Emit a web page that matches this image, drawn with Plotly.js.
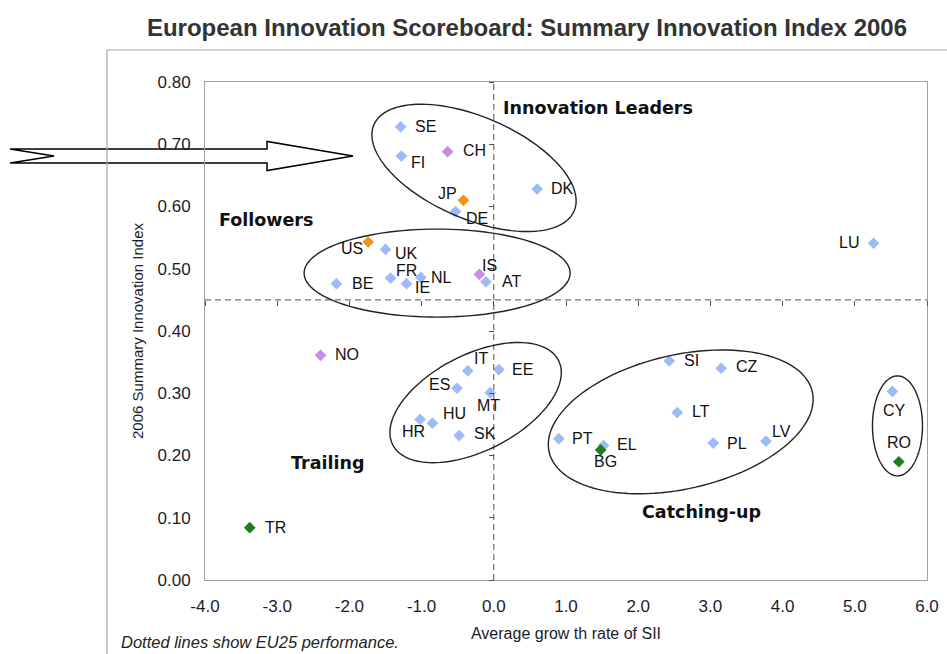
<!DOCTYPE html>
<html>
<head>
<meta charset="utf-8">
<script src="https://cdn.plot.ly/plotly-3.0.1.min.js"></script>
<style>
  html, body { margin: 0; padding: 0; background: #ffffff; }
  #chart { width: 947px; height: 654px; }
</style>
</head>
<body>
<div id="chart"></div>
<script>
// ---------------- DATA ----------------
const countries = ['SE','FI','CH','JP','DE','DK','US','UK','BE','FR','IE','NL','IS','AT','LU','NO','TR',
                   'IT','ES','MT','HR','HU','SK','EE','SI','CZ','LT','PT','EL','BG','PL','LV','CY','RO'];
// Average growth rate of SII (x)
const growthRate = [-1.29,-1.28,-0.64,-0.42,-0.53,0.60,-1.74,-1.50,-2.18,-1.43,-1.21,-1.01,-0.20,-0.11,5.26,-2.40,-3.38,
                    -0.36,-0.51,-0.05,-1.02,-0.85,-0.48,0.07,2.43,3.15,2.54,0.90,1.52,1.48,3.04,3.77,5.52,5.61];
// 2006 Summary Innovation Index (y)
const siiIndex = [0.728,0.681,0.688,0.610,0.592,0.628,0.543,0.531,0.476,0.485,0.476,0.486,0.491,0.479,0.541,0.361,0.084,
                  0.336,0.308,0.301,0.258,0.252,0.232,0.338,0.352,0.340,0.269,0.227,0.216,0.209,0.220,0.223,0.303,0.190];
// marker colour class of each country
const countryClass = ['blue','blue','purple','orange','blue','blue','orange','blue','blue','blue','blue','blue','purple','blue','blue','purple','green',
                      'blue','blue','blue','blue','blue','blue','blue','blue','blue','blue','blue','blue','green','blue','blue','blue','green'];
// EU25 reference performance (dotted lines)
const eu25Growth = 0.0;
const eu25Sii = 0.45;
// quadrant names
const quadrantNames = ['Innovation Leaders','Followers','Trailing','Catching-up'];
const quadrantX = [1.45, -3.15, -2.30, 2.87];
const quadrantY = [0.758, 0.578, 0.188, 0.109];
// tick values
const xTicks = [-4,-3,-2,-1,0,1,2,3,4,5,6];
const xTickText = ['-4.0','-3.0','-2.0','-1.0','0.0','1.0','2.0','3.0','4.0','5.0','6.0'];
const yTicks = [0,0.1,0.2,0.3,0.4,0.5,0.6,0.7,0.8];
const yTickText = ['0.00','0.10','0.20','0.30','0.40','0.50','0.60','0.70','0.80'];

// ---------------- STYLE / LAYOUT CONFIG ----------------
const W = 947, H = 654;
const M = {l: 205, r: 20, t: 82, b: 74};
const xRange = [-4, 6], yRange = [0, 0.8];
const plotW = W - M.l - M.r, plotH = H - M.t - M.b;
const pxPerX = plotW / (xRange[1] - xRange[0]);
const pxPerY = plotH / (yRange[1] - yRange[0]);

const classColors = {blue: '#9EBBF7', purple: '#C98AEE', orange: '#F0921C', green: '#1E7D1E'};
// label offsets in screen pixels [dx, dy(down)]
const labelOffset = {
  SE:[25,0], FI:[17,6], CH:[27,-1], JP:[-16,-7], DE:[21,7], DK:[25,-1], US:[-16,7], UK:[21,4],
  BE:[26,0], FR:[16,-8], IE:[16,4], NL:[21,0], IS:[10,-9], AT:[26,0], LU:[-25,-1], NO:[26,-1],
  TR:[26,0], IT:[13,-12], ES:[-17,-4], MT:[-2,13], HR:[-7,12], HU:[22,-10], SK:[26,-2], EE:[24,0],
  SI:[22,0], CZ:[26,-2], LT:[24,-1], PT:[24,0], EL:[23,-1], BG:[5,12], PL:[24,0], LV:[16,-10],
  CY:[2,19], RO:[0,-19]
};
// group outlines: centre (data), semi-axes (px), rotation (deg, clockwise on screen)
const groupOutlines = [
  {cx: -0.274, cy: 0.662, a: 109, b: 51, ang: 23.3},
  {cx: -0.785, cy: 0.493, a: 133, b: 44, ang: 0},
  {cx: -0.252, cy: 0.285, a: 93, b: 48, ang: -27},
  {cx: 2.589, cy: 0.254, a: 135, b: 67, ang: -12.9},
  {cx: 5.591, cy: 0.2476, a: 25, b: 50, ang: 0}
];

function ellipsePath(e) {
  const t = e.ang * Math.PI / 180, n = 120;
  let d = '';
  for (let i = 0; i <= n; i++) {
    const u = 2 * Math.PI * i / n;
    const dx = e.a * Math.cos(u) * Math.cos(t) - e.b * Math.sin(u) * Math.sin(t);
    const dy = e.a * Math.cos(u) * Math.sin(t) + e.b * Math.sin(u) * Math.cos(t);
    const X = e.cx + dx / pxPerX, Y = e.cy - dy / pxPerY;
    d += (i === 0 ? 'M' : 'L') + X.toFixed(4) + ',' + Y.toFixed(5);
  }
  return d + 'Z';
}

// ---------------- TRACES ----------------
const traces = [];
['blue','purple','orange','green'].forEach(cls => {
  const idx = countries.map((c, i) => i).filter(i => countryClass[i] === cls);
  traces.push({
    type: 'scatter', mode: 'markers',
    x: idx.map(i => growthRate[i]), y: idx.map(i => siiIndex[i]),
    text: idx.map(i => countries[i]),
    marker: {symbol: 'diamond', size: 9, color: classColors[cls], line: {width: 0}},
    hoverinfo: 'text', showlegend: false
  });
});
// helper traces so that the EU25 tick axes get drawn
traces.push({type: 'scatter', x: [], y: [], xaxis: 'x2', yaxis: 'y', showlegend: false, hoverinfo: 'skip'});
traces.push({type: 'scatter', x: [], y: [], xaxis: 'x', yaxis: 'y2', showlegend: false, hoverinfo: 'skip'});

// ---------------- ANNOTATIONS ----------------
const labelFont = {family: 'Liberation Sans, Arial, sans-serif', size: 16, color: '#111111'};
const annotations = countries.map((c, i) => ({
  x: growthRate[i], y: siiIndex[i], xref: 'x', yref: 'y', text: c, showarrow: false,
  xshift: labelOffset[c][0], yshift: -labelOffset[c][1], xanchor: 'center', yanchor: 'middle',
  font: labelFont
}));
quadrantNames.forEach((q, i) => annotations.push({
  x: quadrantX[i], y: quadrantY[i], xref: 'x', yref: 'y', text: q, showarrow: false,
  xanchor: 'center', yanchor: 'middle',
  font: {family: 'DejaVu Sans, Verdana, sans-serif', size: 17.5, color: '#111111', weight: 'bold'}
}));
annotations.push({
  x: (119 - M.l) / plotW, y: (H - M.b - 642) / plotH, xref: 'paper', yref: 'paper',
  text: '<i>Dotted lines show EU25 performance.</i>', showarrow: false, xanchor: 'left', yanchor: 'middle',
  font: {family: 'Liberation Sans, Arial, sans-serif', size: 16.5, color: '#222222'}
});

// ---------------- SHAPES ----------------
const shapes = [];
// block arrow (notched tail), centred vertically on pixel row 156
shapes.push({
  type: 'path', xref: 'paper', yref: 'paper', xsizemode: 'pixel', ysizemode: 'pixel',
  xanchor: 0, yanchor: (H - M.b - 156) / plotH,
  path: 'M -195,7 L 62,7 L 62,14.5 L 148,0 L 62,-14.5 L 62,-7 L -195,-7 L -151,0 Z',
  fillcolor: '#ffffff', line: {color: '#000000', width: 1.5}, layer: 'below'
});
// chart-area border
shapes.push({
  type: 'rect', xref: 'paper', yref: 'paper',
  x0: (107 - M.l) / plotW, x1: 1.2, y0: -0.3, y1: (H - M.b - 50) / plotH,
  line: {color: '#A6A6A6', width: 1.2}, fillcolor: 'rgba(0,0,0,0)', layer: 'below'
});
// EU25 dotted lines
shapes.push({type: 'line', xref: 'x', yref: 'paper', x0: eu25Growth, x1: eu25Growth, y0: 0, y1: 1,
  line: {color: '#505050', width: 1, dash: '6px,4px'}, layer: 'above'});
shapes.push({type: 'line', xref: 'paper', yref: 'y', x0: 0, x1: 1, y0: eu25Sii, y1: eu25Sii,
  line: {color: '#505050', width: 1, dash: '6px,4px'}, layer: 'above'});
// group outlines
groupOutlines.forEach(e => shapes.push({
  type: 'path', xref: 'x', yref: 'y', path: ellipsePath(e),
  line: {color: '#222222', width: 1.4}, fillcolor: 'rgba(0,0,0,0)', layer: 'above'
}));

// ---------------- LAYOUT ----------------
const tickFont = {family: 'Liberation Sans, Arial, sans-serif', size: 17, color: '#1c1c28'};
const layout = {
  width: W, height: H,
  margin: M,
  paper_bgcolor: '#ffffff', plot_bgcolor: '#ffffff',
  showlegend: false,
  title: {
    text: 'European Innovation Scoreboard: Summary Innovation Index 2006',
    x: 527 / W, xref: 'container', xanchor: 'center',
    y: 1 - 28 / H, yref: 'container', yanchor: 'middle',
    font: {family: 'Liberation Sans, Arial, sans-serif', size: 24, color: '#333333', weight: 'bold'}
  },
  xaxis: {
    range: xRange, tickmode: 'array', tickvals: xTicks, ticktext: xTickText,
    showline: true, mirror: true, linecolor: '#A0A0A0', linewidth: 1,
    showgrid: false, zeroline: false, ticks: '', ticklabelstandoff: 11,
    tickfont: tickFont,
    title: {text: 'Average grow th rate of SII', standoff: 12,
            font: {family: 'Liberation Sans, Arial, sans-serif', size: 16, color: '#1c1c28'}}
  },
  yaxis: {
    range: yRange, tickmode: 'array', tickvals: yTicks, ticktext: yTickText,
    showline: true, mirror: true, linecolor: '#A0A0A0', linewidth: 1,
    showgrid: false, zeroline: false, ticks: '', ticklabelstandoff: 10,
    tickfont: tickFont,
    title: {text: '2006 Summary Innovation Index', standoff: 10,
            font: {family: 'Liberation Sans, Arial, sans-serif', size: 15, color: '#1c1c28'}}
  },
  xaxis2: {
    overlaying: 'x', anchor: 'free', position: (eu25Sii - yRange[0]) / (yRange[1] - yRange[0]),
    range: xRange, tickmode: 'array', tickvals: xTicks, showticklabels: false,
    ticks: 'outside', ticklen: 5, tickcolor: '#505050', tickwidth: 1,
    showline: false, showgrid: false, zeroline: false
  },
  yaxis2: {
    overlaying: 'y', anchor: 'free', position: (eu25Growth - xRange[0]) / (xRange[1] - xRange[0]),
    range: yRange, tickmode: 'array', tickvals: yTicks, showticklabels: false,
    ticks: 'outside', ticklen: 5, tickcolor: '#505050', tickwidth: 1,
    showline: false, showgrid: false, zeroline: false
  },
  annotations: annotations,
  shapes: shapes
};

Plotly.newPlot('chart', traces, layout, {displayModeBar: false, staticPlot: true});
</script>
</body>
</html>
